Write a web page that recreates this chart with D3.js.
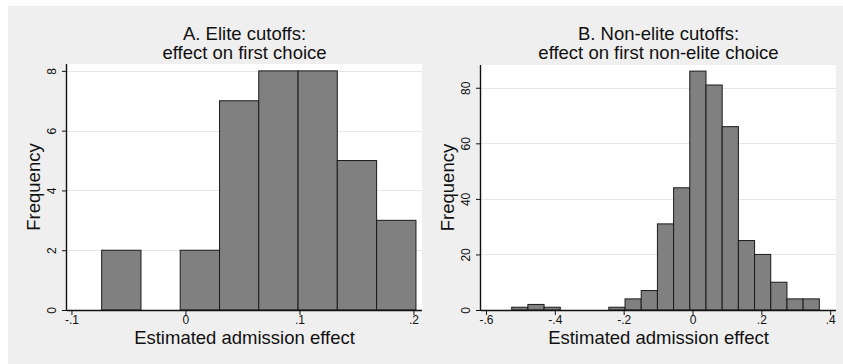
<!DOCTYPE html>
<html>
<head>
<meta charset="utf-8">
<script src="https://cdn.jsdelivr.net/npm/d3@7"></script>
<style>
  html, body { margin: 0; padding: 0; background: #ffffff; }
  svg { display: block; font-family: "Liberation Sans", Arial, sans-serif; }
</style>
</head>
<body>
<svg id="chart" width="843" height="364"></svg>
<script>
// Panel A: elite cutoffs, effect on first choice
const eliteBinEdges = [-0.0735, -0.0390, -0.0046, 0.0299, 0.0643, 0.0988, 0.1332, 0.1677, 0.2022];
const eliteCounts   = [2, 0, 2, 7, 8, 8, 5, 3];
const eliteXTicks   = [-0.1, 0, 0.1, 0.2];
const eliteYTicks   = [0, 2, 4, 6, 8];

// Panel B: non-elite cutoffs, effect on first non-elite choice
const nonEliteBinEdges = [-0.5253, -0.4783, -0.4312, -0.3842, -0.3371, -0.2901, -0.2431, -0.1960,
                          -0.1490, -0.1019, -0.0549, -0.0079, 0.0392, 0.0862, 0.1333, 0.1803,
                          0.2273, 0.2744, 0.3214, 0.3685];
const nonEliteCounts   = [1, 2, 1, 0, 0, 0, 1, 4, 7, 31, 44, 86, 81, 66, 25, 20, 10, 4, 4];
const nonEliteXTicks   = [-0.6, -0.4, -0.2, 0, 0.2, 0.4];
const nonEliteYTicks   = [0, 20, 40, 60, 80];

const xTitle = "Estimated admission effect";
const yTitle = "Frequency";

const svg = d3.select("#chart");

// graph region background
svg.append("rect").attr("x", 8).attr("y", 6).attr("width", 835).attr("height", 358).attr("fill", "#efefef");

// decimals without the leading zero: -.1, .2
const fmt = v => String(+v.toFixed(2)).replace(/^(-?)0\./, "$1.");

function panel(opt) {
  const { left, right, top, bottom, xDomain, yDomain, edges, counts, xTicks, yTicks, title } = opt;
  const x = d3.scaleLinear().domain(xDomain).range([left, right]);
  const y = d3.scaleLinear().domain(yDomain).range([bottom, top]);
  const g = svg.append("g");

  // plot region
  g.append("rect").attr("x", left).attr("y", top).attr("width", right - left).attr("height", bottom - top)
    .attr("fill", "#ffffff");

  // horizontal grid lines
  g.append("g").selectAll("line").data(yTicks.filter(t => t > 0)).join("line")
    .attr("x1", left).attr("x2", right)
    .attr("y1", d => Math.round(y(d)) + 0.5).attr("y2", d => Math.round(y(d)) + 0.5)
    .attr("stroke", "#e6e6e6").attr("stroke-width", 1);

  // histogram bars
  const bins = counts.map((c, i) => ({ x0: edges[i], x1: edges[i + 1], n: c })).filter(b => b.n > 0);
  g.append("g").selectAll("rect").data(bins).join("rect")
    .attr("x", d => x(d.x0)).attr("width", d => x(d.x1) - x(d.x0))
    .attr("y", d => y(d.n)).attr("height", d => y(0) - y(d.n))
    .attr("fill", "#808080").attr("stroke", "#1a1a1a").attr("stroke-width", 1);

  // x axis
  const xa = g.append("g").attr("transform", `translate(0,${bottom})`)
    .call(d3.axisBottom(x).tickValues(xTicks).tickFormat(fmt).tickSize(5).tickSizeOuter(0));
  xa.select(".domain").attr("stroke", "#111").attr("stroke-width", 1.4)
    .attr("d", `M${left},0.5H${right}`);
  xa.selectAll(".tick line").attr("stroke", "#111");
  xa.selectAll(".tick text").attr("y", 5).attr("dy", "0.71em")
    .attr("font-size", "12px").attr("fill", "#111").attr("font-family", "Liberation Sans, Arial, sans-serif");

  // y axis with vertical labels
  const ya = g.append("g").attr("transform", `translate(${left},0)`)
    .call(d3.axisLeft(y).tickValues(yTicks).tickFormat(d3.format("d")).tickSize(5).tickSizeOuter(0));
  ya.select(".domain").attr("stroke", "#111").attr("stroke-width", 1.4)
    .attr("d", `M-0.5,${bottom}V${top}`);
  ya.selectAll(".tick line").attr("stroke", "#111");
  ya.selectAll(".tick text").attr("x", null).attr("dy", null)
    .attr("transform", "translate(-11,0) rotate(-90)").attr("text-anchor", "middle")
    .attr("font-size", "12px").attr("fill", "#111").attr("font-family", "Liberation Sans, Arial, sans-serif");

  const cx = (left + right) / 2, cy = (top + bottom) / 2;

  // panel title, two lines
  g.append("text").attr("x", cx).attr("y", 39.5).attr("text-anchor", "middle")
    .attr("font-size", "18.5px").attr("fill", "#111").text(title[0]);
  g.append("text").attr("x", cx).attr("y", 58.5).attr("text-anchor", "middle")
    .attr("font-size", "18.5px").attr("fill", "#111").text(title[1]);

  // axis titles
  g.append("text").attr("x", cx).attr("y", 344).attr("text-anchor", "middle")
    .attr("font-size", "18.5px").attr("fill", "#111").text(xTitle);
  g.append("text").attr("transform", `translate(${left - 27},${cy}) rotate(-90)`).attr("text-anchor", "middle")
    .attr("font-size", "18.5px").attr("fill", "#111").text(yTitle);
}

panel({
  left: 67, right: 422, top: 64, bottom: 310,
  xDomain: [-0.1039, 0.2075], yDomain: [0, 8.23],
  edges: eliteBinEdges, counts: eliteCounts, xTicks: eliteXTicks, yTicks: eliteYTicks,
  title: ["A. Elite cutoffs:", "effect on first choice"]
});

panel({
  left: 481, right: 836, top: 65, bottom: 310,
  xDomain: [-0.6145, 0.4169], yDomain: [0, 88.2],
  edges: nonEliteBinEdges, counts: nonEliteCounts, xTicks: nonEliteXTicks, yTicks: nonEliteYTicks,
  title: ["B. Non-elite cutoffs:", "effect on first non-elite choice"]
});
</script>
</body>
</html>
